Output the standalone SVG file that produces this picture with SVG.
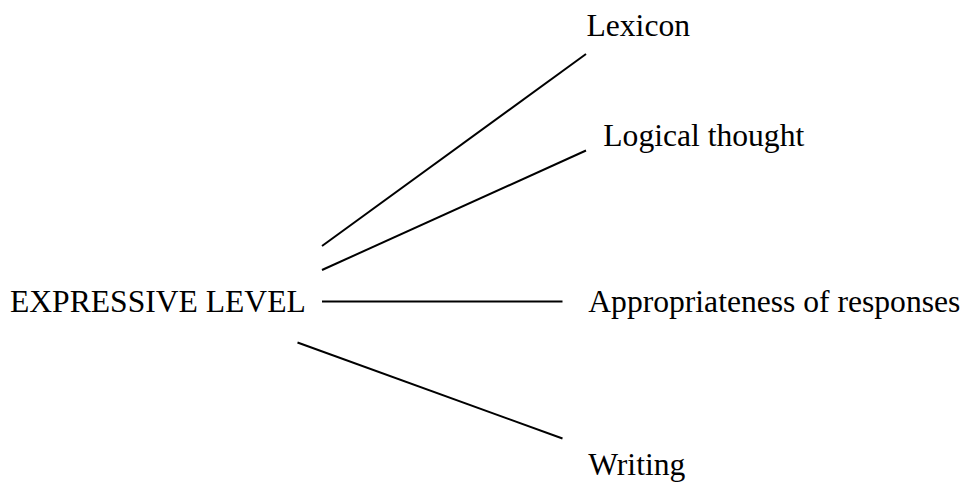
<svg xmlns="http://www.w3.org/2000/svg" width="965" height="483" viewBox="0 0 965 483">
<style>
text{font-family:"Liberation Serif","Times New Roman",serif;font-size:31.6px;fill:#000}
line{stroke:#000;stroke-width:2;fill:none}
</style>
<rect width="965" height="483" fill="#fff"/>
<g id="connectors">
<line x1="322" y1="246" x2="586" y2="54"/>
<line x1="322" y1="270" x2="586" y2="150.5"/>
<line x1="322" y1="301.5" x2="562.5" y2="301.5"/>
<line x1="297.5" y1="342.5" x2="562.5" y2="438.5"/>
</g>
<g id="expressive"><text x="10" y="311.7">EXPRESSIVE LEVEL</text></g>
<g id="lexicon"><text x="586.5" y="35.7">Lexicon</text></g>
<g id="logical"><text x="603.3" y="145.7">Logical thought</text></g>
<g id="appropriateness"><text x="588.3" y="311.7">Appropriateness of responses</text></g>
<g id="writing"><text x="588.3" y="475">Writing</text></g>
</svg>
